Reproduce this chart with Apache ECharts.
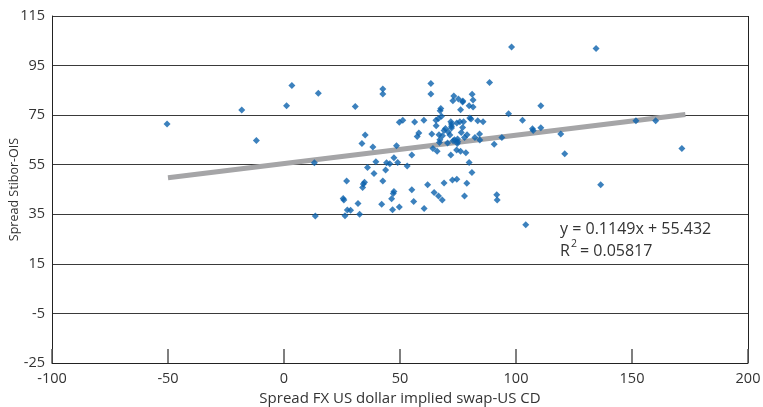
<!DOCTYPE html>
<html>
<head>
<meta charset="utf-8">
<script src="https://cdn.jsdelivr.net/npm/echarts@6/dist/echarts.min.js"></script>
<style>
  html, body { margin: 0; padding: 0; background: #fff; }
  #chart { width: 763px; height: 407px; }
</style>
</head>
<body>
<div id="chart"></div>
<script>
// spread FX US dollar implied swap - US CD (x) vs spread Stibor-OIS (y)
var spreadFx = [
  -50.4, -18.2, -11.9, 1.1, 3.4, 13.1, 14.8, 30.7, 35.0, 33.6, 38.3, 39.6, 36.0, 38.8,
  27.0, 34.7, 34.2, 33.9, 25.5, 25.8, 13.5, 26.3, 27.3, 28.7, 31.9, 32.6,
  98.1, 134.5, 42.6, 42.6, 63.3, 63.3, 88.6, 73.2, 72.8, 75.2, 77.1, 77.0, 81.1, 81.5,
  79.8, 81.5, 67.6, 67.3, 76.1, 110.7, 96.8, 49.7, 51.2, 56.3, 60.3, 65.5, 66.6, 67.9,
  65.6, 71.9, 72.2, 72.2, 74.5, 75.8, 77.4, 77.0, 76.4, 80.1, 80.6, 83.5, 85.8, 102.8,
  107.1, 107.4, 110.7, 119.3, 151.7, 160.2, 171.5, 121.0, 136.5, 93.9, 90.6, 84.3, 84.4,
  82.3, 78.9, 77.8, 74.8, 74.9, 72.9, 70.5, 67.0, 67.2, 66.8, 69.0, 69.6, 70.8, 71.5,
  68.3, 63.7, 57.4, 58.1, 48.5, 55.1, 64.2, 66.0, 71.9, 74.4, 76.1, 78.4, 47.4, 45.6,
  44.2, 49.0, 53.1, 43.8, 79.8, 81.0, 42.6, 61.9, 69.0, 72.6, 74.5, 78.8, 55.1, 64.7,
  66.6, 47.4, 47.1, 77.8, 91.7, 46.4, 42.1, 46.8, 49.7, 55.9, 60.4, 68.2, 91.9, 104.2,
  72.2, 73.5, 74.7
];
var spreadStibor = [
  71.4, 77.1, 64.8, 78.8, 87.0, 55.8, 83.8, 78.5, 67.0, 63.6, 62.1, 56.2, 53.9, 51.5,
  48.4, 47.9, 47.2, 45.8, 41.4, 40.8, 34.3, 34.4, 36.7, 36.6, 39.4, 35.0,
  102.5, 101.9, 85.5, 83.5, 87.8, 83.5, 88.2, 82.7, 80.8, 81.5, 80.7, 80.3, 83.4, 81.1,
  78.8, 78.3, 77.7, 76.8, 77.2, 78.8, 75.6, 72.1, 72.9, 72.2, 72.9, 72.9, 73.6, 74.6,
  70.7, 72.3, 70.5, 69.8, 71.8, 72.3, 72.3, 70.0, 68.0, 73.8, 73.4, 72.7, 72.3, 72.9,
  69.5, 68.8, 69.9, 67.4, 72.7, 72.7, 61.5, 59.4, 46.9, 66.0, 63.3, 67.4, 65.0,
  66.0, 67.1, 66.0, 65.4, 64.3, 64.7, 63.8, 64.0, 65.1, 67.1, 68.8, 69.6, 68.2, 67.0,
  66.7, 67.4, 66.4, 67.8, 62.7, 58.9, 61.5, 60.4, 58.9, 60.9, 60.4, 59.8, 57.8, 55.4,
  55.8, 55.9, 54.5, 52.9, 55.9, 51.9, 48.4, 46.9, 47.6, 48.8, 49.1, 47.5, 44.9, 43.8,
  42.4, 44.2, 43.4, 42.4, 42.9, 41.3, 39.0, 36.8, 37.9, 40.2, 37.3, 40.8, 40.8, 30.8,
  71.4, 65.1, 63.6
];
// fitted line y = 0.1149x + 55.432, drawn over the data range
var trendX = [-50, 173];
var trendY = [49.7, 75.3];
var xTicks = [-100, -50, 0, 50, 100, 150, 200];
var yTicks = [-25, -5, 15, 35, 55, 75, 95, 115];

var points = spreadFx.map(function (x, i) { return [x, spreadStibor[i]]; });
var trend = trendX.map(function (x, i) { return [x, trendY[i]]; });

var chart = echarts.init(document.getElementById('chart'));
var font = 'Open Sans';
var txt = '#333';
chart.setOption({
  animation: false,
  grid: { left: 52, right: 15, top: 16, bottom: 44, outerBoundsMode: 'none' },
  xAxis: {
    type: 'value',
    min: xTicks[0], max: xTicks[xTicks.length - 1], interval: 50,
    name: 'Spread FX US dollar implied swap-US CD',
    nameLocation: 'middle', nameGap: 28, nameMoveOverlap: false,
    nameTextStyle: { color: txt, fontSize: 15, fontFamily: font },
    axisLine: { onZero: false, lineStyle: { color: '#222', width: 1 } },
    axisTick: { inside: true, length: 14, lineStyle: { color: '#555', width: 1.5 } },
    axisLabel: { color: txt, fontSize: 14.5, fontFamily: font, margin: 8 },
    splitLine: { show: false }
  },
  yAxis: {
    type: 'value',
    min: yTicks[0], max: yTicks[yTicks.length - 1], interval: 20,
    name: 'Spread Stibor-OIS',
    nameLocation: 'middle', nameGap: 31, nameMoveOverlap: false,
    nameTextStyle: { color: txt, fontSize: 12.5, fontFamily: font },
    axisLine: { show: true, onZero: false, lineStyle: { color: '#222', width: 1 } },
    axisTick: { show: false },
    axisLabel: { color: txt, fontSize: 14.5, fontFamily: font, margin: 7 },
    splitLine: { show: true, lineStyle: { color: '#3a3a3a', width: 1 } }
  },
  graphic: [
    {
      type: 'line', silent: true,
      shape: { x1: 748.5, y1: 16, x2: 748.5, y2: 363 },
      style: { stroke: '#222', lineWidth: 1 }
    },
    {
      type: 'text', left: 560, top: 221,
      style: { text: 'y = 0.1149x + 55.432', fill: txt, fontSize: 16, fontFamily: font }
    },
    {
      type: 'text', left: 560, top: 243,
      style: { text: 'R', fill: txt, fontSize: 16, fontFamily: font }
    },
    {
      type: 'text', left: 571, top: 239,
      style: { text: '2', fill: txt, fontSize: 10.5, fontFamily: font }
    },
    {
      type: 'text', left: 580, top: 243,
      style: { text: '= 0.05817', fill: txt, fontSize: 16, fontFamily: font }
    }
  ],
  series: [
    {
      type: 'line',
      data: trend,
      symbol: 'none',
      lineStyle: { color: '#a5a5a7', width: 5 },
      z: 2
    },
    {
      type: 'scatter',
      data: points,
      symbol: 'diamond',
      symbolSize: 7,
      itemStyle: { color: '#0b62ad' },
      z: 3
    }
  ]
});
</script>
</body>
</html>
